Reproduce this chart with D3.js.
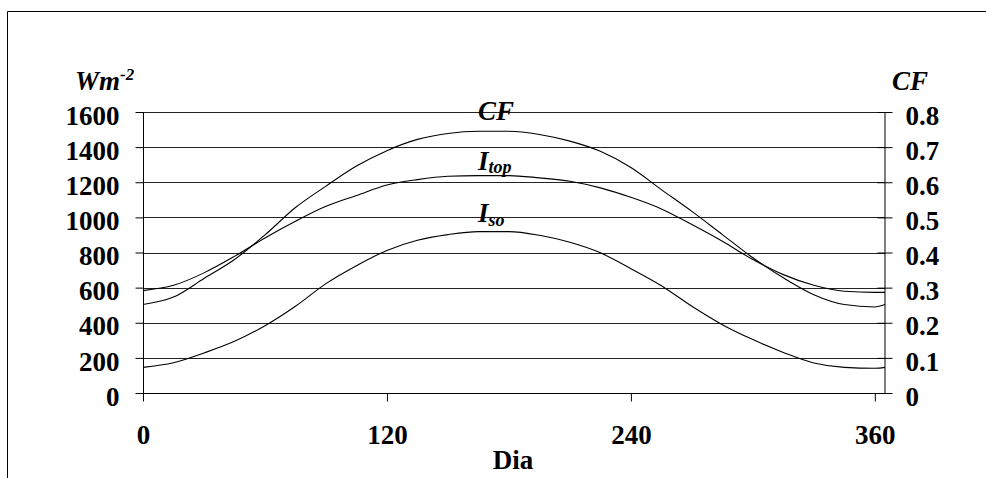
<!DOCTYPE html>
<html>
<head>
<meta charset="utf-8">
<script src="https://cdn.jsdelivr.net/npm/d3@7"></script>
<style>
  body { margin: 0; background: #fff; }
  svg text { font-family: "Liberation Serif", "Times New Roman", serif; font-weight: bold; fill: #000; }
</style>
</head>
<body>
<div id="viz"></div>
<script>
// day of year
var days = [0, 15, 30, 45, 60, 75, 90, 105, 120, 135, 150, 165, 180, 195, 210, 225, 240, 255, 270, 285, 300, 315, 330, 345, 360, 365];
// W m-2, left axis
var iso = [146, 172, 228, 294, 383, 494, 623, 725, 812, 870, 902, 919, 919, 898, 858, 798, 708, 611, 494, 389, 304, 231, 171, 146, 141, 146];
var itop = [583, 613, 684, 778, 883, 978, 1063, 1124, 1184, 1215, 1234, 1238, 1238, 1225, 1206, 1168, 1114, 1048, 959, 864, 760, 674, 613, 579, 573, 573];
// CF, right axis
var cf = [0.252, 0.273, 0.326, 0.38, 0.45, 0.528, 0.589, 0.646, 0.69, 0.722, 0.739, 0.745, 0.745, 0.736, 0.717, 0.688, 0.642, 0.579, 0.517, 0.451, 0.385, 0.328, 0.28, 0.252, 0.245, 0.252];

var leftTicks = [0, 200, 400, 600, 800, 1000, 1200, 1400, 1600];
var rightTicks = [0, 0.1, 0.2, 0.3, 0.4, 0.5, 0.6, 0.7, 0.8];
var dayTicks = [0, 120, 240, 360];

// note: "top" is reserved on window, so plot edges get a prefix
var width = 986,
    height = 478,
    plotLeft = 143,
    plotRight = 885,
    plotTop = 112,
    plotBottom = 393,
    fontSize = 27;

var svg = d3.select('#viz').append('svg')
    .attr('width', width)
    .attr('height', height);

// outer frame (only top and left edges fall inside the picture)
svg.append('path')
    .attr('d', 'M7.5,' + height + 'V11.5H' + width)
    .attr('fill', 'none')
    .attr('stroke', '#000');

var x = d3.scaleLinear().domain([0, 365]).range([plotLeft, plotRight]);
var yL = d3.scaleLinear().domain([0, 1600]).range([plotBottom, plotTop]);
var yR = d3.scaleLinear().domain([0, 0.8]).range([plotBottom, plotTop]);

// gridlines
svg.append('g')
    .selectAll('line')
    .data(leftTicks.slice(1))
    .enter().append('line')
    .attr('x1', plotLeft)
    .attr('x2', x(365))
    .attr('y1', function(d) { return Math.round(yL(d)) + 0.5; })
    .attr('y2', function(d) { return Math.round(yL(d)) + 0.5; })
    .attr('stroke', '#222')
    .attr('stroke-width', 1);

// left axis
var gL = svg.append('g')
    .attr('transform', 'translate(' + (plotLeft + 0.5) + ',0)')
    .call(d3.axisLeft(yL).tickValues(leftTicks).tickSize(8).tickSizeOuter(0).tickPadding(16).tickFormat(d3.format('d')));
gL.selectAll('text').attr('font-size', fontSize).attr('dy', '0.45em');
gL.select('.domain').attr('d', 'M0,' + plotTop + 'V' + (plotBottom + 8));

// right axis, ticks cross the line
var gR = svg.append('g')
    .attr('transform', 'translate(' + (Math.round(x(365)) - 0.5) + ',0)')
    .call(d3.axisRight(yR).tickValues(rightTicks).tickSize(8).tickSizeOuter(0).tickPadding(13)
        .tickFormat(function(d) { return d === 0 ? '0' : d3.format('.1f')(d); }));
gR.selectAll('.tick line').attr('x1', -7);
gR.selectAll('text').attr('font-size', fontSize).attr('dy', '0.45em');

// bottom axis
var gB = svg.append('g')
    .attr('transform', 'translate(0,' + (plotBottom + 0.5) + ')')
    .call(d3.axisBottom(x).tickValues(dayTicks).tickSize(8).tickSizeOuter(0));
gB.selectAll('text').attr('font-size', fontSize).attr('y', 50).attr('dy', 0);
gB.select('.domain').attr('d', 'M' + plotLeft + ',0H' + x(365));

svg.selectAll('.domain, .tick line').attr('stroke', '#000');

// series
var lineL = d3.line()
    .x(function(d, i) { return x(days[i]); })
    .y(function(d) { return yL(d); })
    .curve(d3.curveMonotoneX);
var lineR = d3.line()
    .x(function(d, i) { return x(days[i]); })
    .y(function(d) { return yR(d); })
    .curve(d3.curveMonotoneX);

svg.append('path').datum(iso).attr('d', lineL)
    .attr('fill', 'none').attr('stroke', '#000').attr('stroke-width', 1.1);
svg.append('path').datum(itop).attr('d', lineL)
    .attr('fill', 'none').attr('stroke', '#000').attr('stroke-width', 1.1);
svg.append('path').datum(cf).attr('d', lineR)
    .attr('fill', 'none').attr('stroke', '#000').attr('stroke-width', 1.1);

// axis titles
var wm = svg.append('text')
    .attr('x', 75)
    .attr('y', 90)
    .attr('font-size', fontSize)
    .attr('font-style', 'italic')
    .text('Wm');
wm.append('tspan')
    .attr('font-size', 17)
    .attr('dy', -10)
    .text('-2');

svg.append('text')
    .attr('x', 892)
    .attr('y', 90)
    .attr('font-size', fontSize)
    .attr('font-style', 'italic')
    .text('CF');

svg.append('text')
    .attr('x', 513)
    .attr('y', 469)
    .attr('font-size', fontSize)
    .attr('text-anchor', 'middle')
    .text('Dia');

// curve labels
svg.append('text')
    .attr('x', 478)
    .attr('y', 120)
    .attr('font-size', fontSize)
    .attr('font-style', 'italic')
    .text('CF');

var lt = svg.append('text')
    .attr('x', 478)
    .attr('y', 170)
    .attr('font-size', fontSize)
    .attr('font-style', 'italic')
    .text('I');
lt.append('tspan')
    .attr('font-size', 18)
    .attr('dy', 3)
    .text('top');

var ls = svg.append('text')
    .attr('x', 478)
    .attr('y', 222)
    .attr('font-size', fontSize)
    .attr('font-style', 'italic')
    .text('I');
ls.append('tspan')
    .attr('font-size', 18)
    .attr('dy', 4)
    .text('so');
</script>
</body>
</html>
